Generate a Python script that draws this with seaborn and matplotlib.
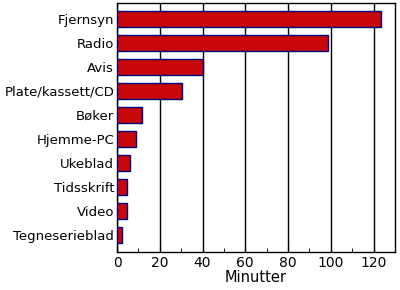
import matplotlib
matplotlib.use("Agg")
import matplotlib.pyplot as plt
import seaborn as sns
import pandas as pd
from matplotlib.ticker import MultipleLocator

categories = ["Fjernsyn", "Radio", "Avis", "Plate/kassett/CD", "Bøker",
              "Hjemme-PC", "Ukeblad", "Tidsskrift", "Video", "Tegneserieblad"]
minutes = [123.5, 98.6, 40, 30.5, 11.8, 8.7, 5.9, 4.8, 4.8, 2.5]
xticks = [0, 20, 40, 60, 80, 100, 120]

df = pd.DataFrame({"cat": categories, "min": minutes})

sns.set_style("white", {"text.color": "black", "axes.labelcolor": "black",
                        "xtick.color": "black", "ytick.color": "black"})
plt.rcParams['font.family'] = ['DejaVu Sans']

fig = plt.figure(figsize=(4, 2.9), dpi=100)
ax = fig.add_axes([0.2925, 0.131, 0.695, 0.859])

sns.barplot(data=df, x="min", y="cat", orient="h", color="#c80808",
            saturation=1, width=0.667, edgecolor="#000080", linewidth=1,
            ax=ax, zorder=3)

ax.set_xlim(0, 130)
ax.set_ylim(9.72, -0.67)
ax.set_xticks(xticks)
ax.xaxis.set_minor_locator(MultipleLocator(10))
ax.grid(axis="x", which="major", color="black", linewidth=1, zorder=0)
ax.set_axisbelow(True)
ax.tick_params(axis="x", which="major", direction="in", length=4, labelsize=10,
               colors="black", bottom=True, pad=3)
ax.tick_params(axis="x", which="minor", direction="in", length=3, bottom=True,
               colors="black")
ax.tick_params(axis="y", length=0, labelsize=9.5, pad=2, colors="black")
ax.set_xlabel("Minutter", fontsize=10.5, labelpad=0, color="black")
ax.set_ylabel("")
for s in ax.spines.values():
    s.set_visible(True)
    s.set_color("black")
    s.set_linewidth(1)

fig.savefig("out.png", dpi=100)
